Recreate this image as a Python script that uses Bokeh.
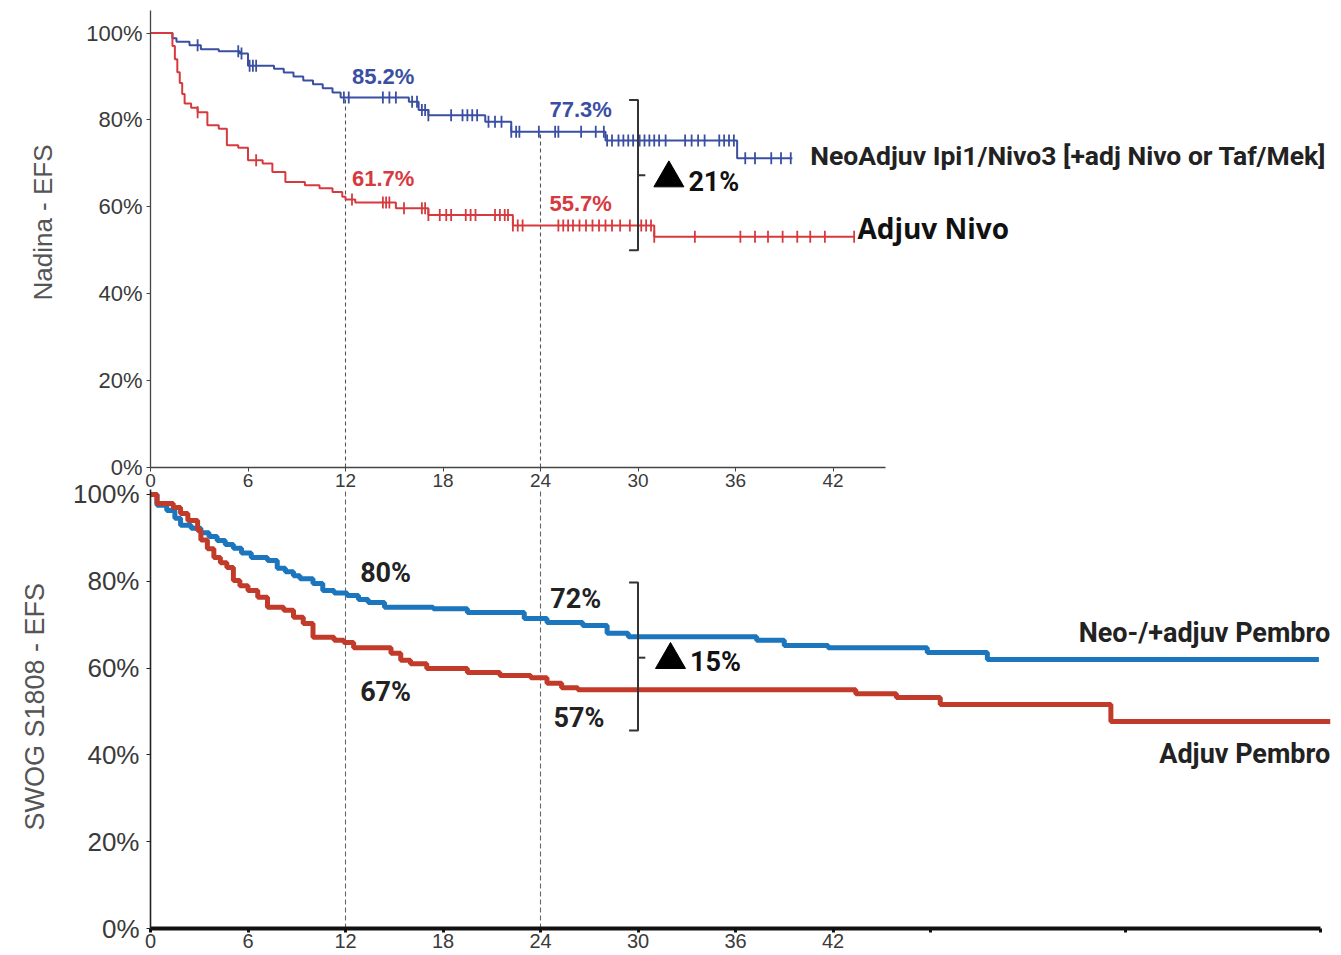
import numpy as np
from bokeh.plotting import figure
from bokeh.layouts import column
from bokeh.models import FixedTicker, Title, Range1d
from bokeh.core.properties import value
from bokeh.embed import file_html
from bokeh.resources import INLINE

# ---------------- data (months, EFS %) ----------------
# Nadina: NeoAdjuv Ipi1/Nivo3
nad_neo_t = [0, 1.35, 1.6, 2.4, 3.1, 4.2, 5.5, 6.0, 7.6, 8.2, 8.8, 9.4, 10.0, 10.6,
             11.2, 11.7, 15.9, 16.5, 17.1, 20.6, 22.2, 28.0, 36.1, 39.5]
nad_neo_s = [100, 98.8, 98.0, 97.2, 96.3, 95.8, 95.3, 92.5, 91.8, 90.9, 90.0, 89.1, 88.2, 87.3,
             86.3, 85.2, 84.2, 82.3, 81.1, 79.6, 77.3, 75.3, 71.2, 71.2]
nad_neo_cens = [2.9, 5.4, 5.6, 6.1, 6.3, 6.5, 11.9, 12.2, 14.3, 14.7, 15.1, 16.1, 16.4, 16.7,
                16.9, 17.1, 18.5, 19.2, 19.5, 19.8, 20.1, 20.8, 21.2, 21.6, 22.2, 22.5, 22.7,
                23.9, 24.9, 25.1, 26.5, 27.4, 27.9, 28.1, 28.4, 28.8, 29.1, 29.4, 29.7, 30.1,
                30.4, 30.7, 31.0, 31.3, 31.7, 32.9, 33.3, 33.7, 34.1, 35.0, 35.3, 35.6, 35.9,
                36.6, 37.2, 38.2, 38.8, 39.4]
# Nadina: Adjuv Nivo
nad_adj_t = [0, 1.35, 1.5, 1.65, 1.8, 1.95, 2.1, 2.5, 2.9, 3.5, 4.2, 4.7, 5.4, 6.0, 6.9,
             7.5, 8.3, 9.5, 10.4, 11.2, 11.8, 12.0, 12.6, 15.1, 17.1, 22.3, 31.0, 43.3]
nad_adj_s = [100, 97.0, 94.0, 91.0, 88.5, 86.0, 83.8, 82.8, 81.8, 78.8, 78.0, 74.2, 73.6, 70.7,
             70.0, 68.0, 65.7, 65.0, 64.3, 63.4, 62.3, 61.7, 61.0, 59.7, 58.1, 55.7, 53.1, 53.1]
nad_adj_cens = [2.9, 6.5, 12.4, 14.3, 14.5, 14.7, 15.6, 16.7, 16.9, 17.1, 17.8, 18.2, 18.5,
                19.4, 19.7, 20.0, 21.2, 21.5, 21.8, 22.0, 22.3, 22.6, 22.9, 25.1, 25.4, 25.7,
                26.0, 26.4, 26.8, 27.2, 27.6, 28.0, 28.4, 28.9, 29.5, 30.2, 30.5, 30.8, 31.0,
                33.5, 36.3, 37.2, 38.0, 38.9, 39.8, 40.6, 41.5, 43.3]

# SWOG S1808: Neo-/+adjuv Pembro
swog_neo_t = [0, 0.4, 1.0, 1.5, 1.85, 2.5, 3.1, 3.6, 4.1, 4.6, 5.1, 5.6, 6.2, 7.2, 7.8, 8.3,
              8.8, 9.2, 10.0, 10.6, 11.3, 12.1, 12.8, 13.4, 14.4, 17.4, 19.5, 23.0, 24.4,
              26.6, 28.1, 29.4, 37.3, 39.0, 41.7, 47.8, 51.5, 71.9]
swog_neo_s = [100, 97.5, 96.3, 94.5, 92.9, 92.2, 91.2, 90.3, 89.4, 88.5, 87.6, 86.5, 85.5,
              84.8, 83.0, 82.2, 81.3, 80.6, 79.5, 77.9, 77.3, 76.7, 75.8, 75.1, 74.0, 73.7,
              72.8, 71.4, 70.5, 69.8, 68.0, 67.2, 66.4, 65.2, 64.7, 63.6, 62.0, 62.0]
# SWOG S1808: Adjuv Pembro
swog_adj_t = [0, 0.4, 1.4, 1.85, 2.3, 2.9, 3.1, 3.5, 3.9, 4.3, 4.7, 5.1, 5.5, 6.0, 6.6, 7.2,
              8.2, 8.8, 9.4, 10.0, 11.3, 11.9, 12.5, 14.8, 15.4, 16.0, 17.0, 19.5, 21.5,
              23.4, 24.4, 25.3, 26.3, 43.4, 45.9, 48.6, 59.1, 72.6]
swog_adj_s = [100, 97.9, 97.0, 95.6, 94.0, 91.7, 89.5, 87.5, 85.5, 84.3, 83.2, 80.2, 79.0,
              77.9, 76.3, 74.0, 73.3, 71.7, 70.3, 67.1, 66.4, 65.9, 64.7, 63.4, 61.8, 61.0,
              59.9, 59.0, 58.3, 57.8, 56.5, 55.5, 55.0, 54.1, 53.2, 51.6, 47.7, 47.7]

x_ticks = [0, 6, 12, 18, 24, 30, 36, 42]
x_ticks_extra = [48, 60, 72]
y_ticks = [0, 20, 40, 60, 80, 100]
landmarks = [12, 24]
nad_labels = ["85.2%", "61.7%", "77.3%", "55.7%"]
swog_labels = ["80%", "67%", "72%", "57%"]
delta_labels = ["21%", "15%"]
arm_labels_top = ["NeoAdjuv Ipi1/Nivo3 [+adj Nivo or Taf/Mek]", "Adjuv Nivo"]
arm_labels_bot = ["Neo-/+adjuv Pembro", "Adjuv Pembro"]
y_titles = ["Nadina - EFS", "SWOG S1808 - EFS"]

# colours
NAD_BLUE = "#3a4fa2"
NAD_RED = "#d63a3f"
SW_BLUE = "#1c76bd"
SW_RED = "#c23b2a"

X_END = 1191 / 16.25


def step_at(t, s, c):
    t = np.asarray(t, dtype=float)
    s = np.asarray(s, dtype=float)
    idx = np.searchsorted(t, np.asarray(c, dtype=float), side="right") - 1
    return s[np.clip(idx, 0, len(s) - 1)]


def style_common(p):
    p.xgrid.visible = False
    p.ygrid.visible = False
    p.outline_line_color = None
    p.background_fill_color = None
    p.border_fill_color = None


# ---------------- top panel: Nadina ----------------
p1 = figure(width=1341, height=494, output_backend="svg", toolbar_location=None,
            x_range=Range1d(0, X_END), y_range=Range1d(0, 105.2),
            min_border_left=150, min_border_right=0, min_border_top=10, min_border_bottom=27)
style_common(p1)

p1.xaxis.ticker = FixedTicker(ticks=x_ticks, minor_ticks=[])
p1.xaxis.bounds = (0, 45.2)
p1.yaxis.ticker = FixedTicker(ticks=y_ticks, minor_ticks=[])
p1.yaxis.major_label_overrides = {v: f"{v}%" for v in y_ticks}
for ax in (p1.xaxis, p1.yaxis):
    ax.axis_line_color = "#444444"
    ax.axis_line_width = 1.3
    ax.major_tick_line_color = "#444444"
    ax.major_tick_in = 0
    ax.major_tick_out = 4
    ax.major_label_text_font = "Liberation Sans"
    ax.major_label_text_color = "#3a3a3a"
p1.xaxis.major_label_text_font_size = "19px"
p1.xaxis.major_label_standoff = 2
p1.yaxis.major_label_text_font_size = "22px"
p1.yaxis.major_label_standoff = 4

# landmark dashed lines
p1.segment(x0=landmarks, y0=[0, 0], x1=landmarks,
           y1=list(step_at(nad_neo_t, nad_neo_s, landmarks)),
           line_color="#555555", line_dash="4 3", line_width=1.1)

p1.step(nad_neo_t, nad_neo_s, mode="after", line_color=NAD_BLUE, line_width=2)
p1.step(nad_adj_t, nad_adj_s, mode="after", line_color=NAD_RED, line_width=2)
p1.scatter(nad_neo_cens, step_at(nad_neo_t, nad_neo_s, nad_neo_cens), marker="dash",
           angle=np.pi / 2, size=12, line_color=NAD_BLUE, line_width=1.8)
p1.scatter(nad_adj_cens, step_at(nad_adj_t, nad_adj_s, nad_adj_cens), marker="dash",
           angle=np.pi / 2, size=12, line_color=NAD_RED, line_width=1.8)

p1.text(x=[12.4, 12.4], y=[90.1, 66.6], text=[nad_labels[0], nad_labels[1]],
        text_color=[NAD_BLUE, NAD_RED], text_font=value("Liberation Sans"),
        text_font_style="bold", text_font_size="22px", text_baseline="middle")
p1.text(x=[24.55, 24.55], y=[82.3, 60.8], text=[nad_labels[2], nad_labels[3]],
        text_color=[NAD_BLUE, NAD_RED], text_font=value("Liberation Sans"),
        text_font_style="bold", text_font_size="22px", text_baseline="middle")

# bracket
p1.line(x=[29.45, 30.0, 30.0, 29.45], y=[84.6, 84.6, 50.0, 50.0], line_color="#333333", line_width=2)
p1.segment(x0=[30.0], y0=[67.3], x1=[30.45], y1=[67.3], line_color="#333333", line_width=2)
p1.scatter(x=[31.9], y=[66.6], marker="triangle", size=30, fill_color="black", line_color="black")
p1.text(x=[33.1], y=[65.7], text=[delta_labels[0]], text_font=value("Roboto"),
        text_font_style="bold", text_font_size="27px", text_baseline="middle", text_color="#111111")

p1.text(x=[40.6], y=[71.9], text=[arm_labels_top[0]], text_font=value("Roboto"),
        text_font_style="bold", text_font_size="26.5px", text_baseline="middle", text_color="#222222")
p1.text(x=[43.5], y=[55.1], text=[arm_labels_top[1]], text_font=value("Open Sans"),
        text_font_style="bold", text_font_size="28px", text_baseline="middle", text_color="#111111")

p1.add_layout(Title(text=y_titles[0], align="left", offset=167, standoff=48,
                    vertical_align="top",
                    text_font_size="26px", text_font="Liberation Sans",
                    text_font_style="normal", text_color="#555555"), "left")

# ---------------- bottom panel: SWOG S1808 ----------------
p2 = figure(width=1341, height=480, output_backend="svg", toolbar_location=None,
            x_range=Range1d(0, X_END), y_range=Range1d(0, 101.15),
            min_border_left=150, min_border_right=0, min_border_top=14, min_border_bottom=27,
            margin=(-19, 0, 0, 0))
style_common(p2)

p2.xaxis.ticker = FixedTicker(ticks=x_ticks + x_ticks_extra, minor_ticks=[])
p2.xaxis.major_label_overrides = {v: "" for v in x_ticks_extra}
p2.xaxis.bounds = (0, 72)
p2.xaxis.axis_line_color = "#111111"
p2.xaxis.axis_line_width = 4
p2.xaxis.major_tick_line_color = "#111111"
p2.xaxis.major_tick_line_width = 3
p2.xaxis.major_tick_in = 0
p2.xaxis.major_tick_out = 4
p2.xaxis.major_label_standoff = 1
p2.xaxis.major_label_text_font_size = "20px"
p2.xaxis.major_label_text_font = "Liberation Sans"
p2.xaxis.major_label_text_color = "#3a3a3a"

p2.yaxis.ticker = FixedTicker(ticks=y_ticks, minor_ticks=[])
p2.yaxis.major_label_overrides = {v: f"{v}%" for v in y_ticks}
p2.yaxis.axis_line_color = "#222222"
p2.yaxis.axis_line_width = 1.6
p2.yaxis.major_tick_line_color = "#222222"
p2.yaxis.major_tick_in = 0
p2.yaxis.major_tick_out = 4
p2.yaxis.major_label_standoff = 7
p2.yaxis.major_label_text_font_size = "26px"
p2.yaxis.major_label_text_font = "Liberation Sans"
p2.yaxis.major_label_text_color = "#3a3a3a"

p2.segment(x0=landmarks, y0=[0, 0], x1=landmarks, y1=[101.15, 101.15],
           line_color="#666666", line_dash="5 3", line_width=1.1)

p2.step(swog_neo_t, swog_neo_s, mode="after", line_color=SW_BLUE, line_width=5)
p2.step(swog_adj_t, swog_adj_s, mode="after", line_color=SW_RED, line_width=5)

p2.text(x=[12.9, 12.9, 24.6, 24.8], y=[82.0, 54.4, 76.0, 48.4], text=swog_labels,
        text_font=value("Roboto"), text_font_style="bold", text_font_size="27px",
        text_baseline="middle", text_color="#222222")

p2.line(x=[29.45, 30.0, 30.0, 29.45], y=[79.7, 79.7, 45.6, 45.6], line_color="#333333", line_width=2)
p2.segment(x0=[30.0], y0=[62.4], x1=[30.45], y1=[62.4], line_color="#333333", line_width=2)
p2.scatter(x=[32.0], y=[61.9], marker="triangle", size=30, fill_color="black", line_color="black")
p2.text(x=[33.2], y=[61.3], text=[delta_labels[1]], text_font=value("Roboto"),
        text_font_style="bold", text_font_size="27px", text_baseline="middle", text_color="#111111")

p2.text(x=[72.6, 72.6], y=[68.0, 40.1], text=arm_labels_bot, text_font=value("Roboto"),
        text_font_style="bold", text_font_size="27px", text_baseline="middle",
        text_align="right", text_color="#222222")

p2.add_layout(Title(text=y_titles[1], align="left", offset=98, standoff=38,
                    vertical_align="top",
                    text_font_size="27px", text_font="Liberation Sans",
                    text_font_style="normal", text_color="#555555"), "left")

layout = column(p1, p2, spacing=0)
open("out.html", "w").write(file_html(layout, INLINE))
